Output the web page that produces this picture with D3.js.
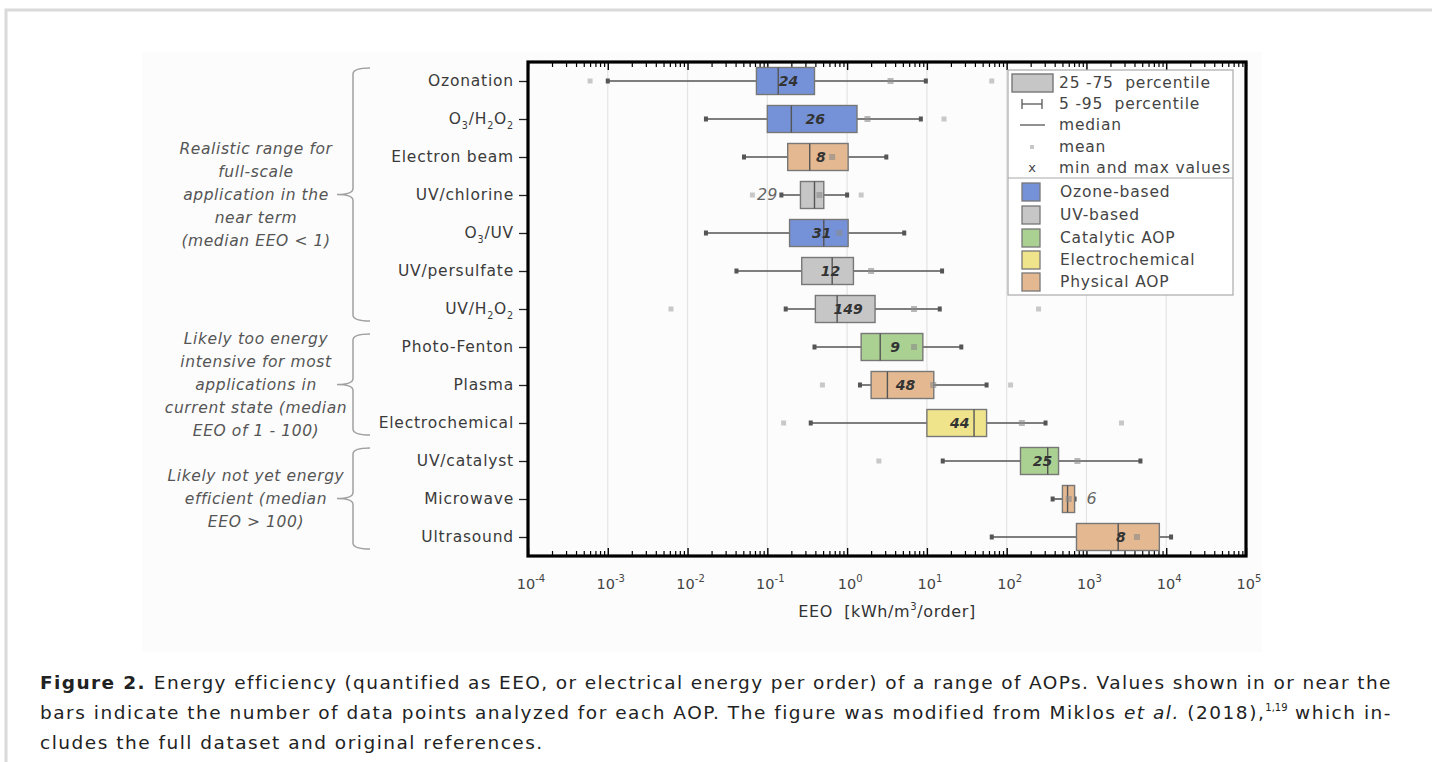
<!DOCTYPE html>
<html>
<head>
<meta charset="utf-8">
<script src="https://cdn.jsdelivr.net/npm/d3@7/dist/d3.min.js"></script>
<style>
  html, body { margin: 0; padding: 0; background: #fff; }
  svg { display: block; }
</style>
</head>
<body>
<svg id="fig" width="1432" height="762"></svg>
<script>
(function () {
  "use strict";

  // --- data (EEO, kWh/m3/order) ---
  var categories = ["Ozonation", "O_3/H_2O_2", "Electron beam", "UV/chlorine", "O_3/UV",
    "UV/persulfate", "UV/H_2O_2", "Photo-Fenton", "Plasma", "Electrochemical",
    "UV/catalyst", "Microwave", "Ultrasound"];
  var groups = ["ozone", "ozone", "physical", "uv", "ozone", "uv", "uv",
    "catalytic", "physical", "electro", "catalytic", "physical", "physical"];
  var counts = [24, 26, 8, 29, 31, 12, 149, 9, 48, 44, 25, 6, 8];
  var countSide = ["in", "in", "in", "left", "in", "in", "in", "in", "in", "in", "in", "right", "in"];
  var p5     = [0.001, 0.017, 0.051, 0.15, 0.017, 0.041, 0.17, 0.39, 1.45, 0.35, 15.8, 377, 65];
  var q1     = [0.073, 0.10, 0.18, 0.26, 0.19, 0.27, 0.40, 1.5, 2.0, 10, 149, 500, 750];
  var median = [0.137, 0.20, 0.34, 0.39, 0.51, 0.65, 0.75, 2.6, 3.2, 39, 327, 580, 2500];
  var q3     = [0.39, 1.33, 1.03, 0.51, 1.03, 1.2, 2.24, 8.9, 12.2, 56, 447, 710, 8200];
  var p95    = [9.7, 8.4, 3.1, 1.0, 5.2, 15.5, 14.5, 27, 56, 307, 4750, 710, 11500];
  var means  = [3.5, 1.8, 0.65, 0.45, 0.8, 2.0, 6.9, 6.9, 12, 155, 770, 600, 4300];
  var mins   = [0.0006, null, null, 0.065, null, null, 0.0062, null, 0.49, 0.16, 2.5, null, null];
  var maxs   = [65, 16.4, null, 1.5, null, null, 251, null, 112, 2750, null, null, null];

  var decades = [-4, -3, -2, -1, 0, 1, 2, 3, 4, 5];

  var groupKeys   = ["ozone", "uv", "catalytic", "electro", "physical"];
  var groupLabels = ["Ozone-based", "UV-based", "Catalytic AOP", "Electrochemical", "Physical AOP"];
  var groupColors = ["#7592d8", "#c6c6c6", "#aad192", "#efe48c", "#e4b991"];

  var statLabels = ["25 -75  percentile", "5 -95  percentile", "median", "mean", "min and max values"];

  var notes = [
    { rows: [0, 6], lines: ["Realistic range for", "full-scale", "application in the", "near term", "(median EEO < 1)"] },
    { rows: [7, 9], lines: ["Likely too energy", "intensive for most", "applications in", "current state (median", "EEO of 1 - 100)"] },
    { rows: [10, 12], lines: ["Likely not yet energy", "efficient (median", "EEO > 100)"] }
  ];

  var captionLines = [
    "Energy efficiency (quantified as EEO, or electrical energy per order) of a range of AOPs. Values shown in or near the",
    "bars indicate the number of data points analyzed for each AOP. The figure was modified from Miklos ",
    "cludes the full dataset and original references."
  ];

  var svg = d3.select("#fig");
  var font = "'DejaVu Sans', Verdana, sans-serif";
  var color = d3.scaleOrdinal().domain(groupKeys).range(groupColors);

  // page frame
  svg.append("rect").attr("x", 6).attr("y", 10).attr("width", 1430).attr("height", 760)
    .attr("fill", "none").attr("stroke", "#dadada").attr("stroke-width", 3);
  svg.append("rect").attr("x", 142).attr("y", 52).attr("width", 1120).attr("height", 600)
    .attr("fill", "#fcfcfc");

  var plot = { left: 528, right: 1246, top: 62, bottom: 556 };
  var x = d3.scaleLog().domain([1e-4, 1e5]).range([plot.left, plot.right]);
  var y = d3.scalePoint().domain(d3.range(categories.length)).range([plot.top, plot.bottom]).padding(0.5);
  var boxH = 27;

  var decadeVals = decades.map(function (d) { return Math.pow(10, d); });
  var minorVals = [];
  decades.slice(0, -1).forEach(function (d) {
    for (var k = 2; k <= 9; k++) minorVals.push(k * Math.pow(10, d));
  });

  // grid
  svg.append("g").selectAll("line").data(decadeVals.slice(1, -1)).enter().append("line")
    .attr("x1", function (d) { return x(d); }).attr("x2", function (d) { return x(d); })
    .attr("y1", plot.top).attr("y2", plot.bottom)
    .attr("stroke", "#e4e4e4").attr("stroke-width", 1.2);

  // axes ticks
  function tickAxis(axis, ty, size, vals, w) {
    var g = svg.append("g").attr("transform", "translate(0," + ty + ")")
      .call(axis.tickValues(vals).tickSize(size).tickFormat(""));
    g.select(".domain").remove();
    g.selectAll("text").remove();
    g.selectAll("line").attr("stroke", "#000").attr("stroke-width", w);
  }
  tickAxis(d3.axisBottom(x), plot.bottom, -8, decadeVals, 1.4);
  tickAxis(d3.axisBottom(x), plot.bottom, -5, minorVals, 1.2);
  tickAxis(d3.axisTop(x), plot.top, -8, decadeVals, 1.4);
  tickAxis(d3.axisTop(x), plot.top, -5, minorVals, 1.2);

  var yAxis = svg.append("g").attr("transform", "translate(" + plot.left + ",0)")
    .call(d3.axisLeft(y).tickSize(9).tickFormat(""));
  yAxis.select(".domain").remove();
  yAxis.selectAll("text").remove();
  yAxis.selectAll("line").attr("stroke", "#222").attr("stroke-width", 1.3);

  // frame
  svg.append("rect").attr("x", plot.left).attr("y", plot.top)
    .attr("width", plot.right - plot.left).attr("height", plot.bottom - plot.top)
    .attr("fill", "none").attr("stroke", "#000").attr("stroke-width", 3.2);

  // x tick labels
  var xl = svg.append("g").selectAll("text").data(decades).enter().append("text")
    .attr("x", function (d) { return x(Math.pow(10, d)) + 3; }).attr("y", 589)
    .attr("text-anchor", "middle").attr("font-family", font).attr("font-size", 14.5)
    .attr("fill", "#444");
  xl.append("tspan").text("10");
  xl.append("tspan").attr("dy", -7).attr("font-size", 10).text(function (d) { return d; });

  var xt = svg.append("text").attr("x", 887).attr("y", 617).attr("text-anchor", "middle")
    .attr("font-family", font).attr("font-size", 16).attr("letter-spacing", 0.6).attr("fill", "#333");
  xt.append("tspan").text("EEO  [kWh/m").attr("xml:space", "preserve");
  xt.append("tspan").attr("dy", -7).attr("font-size", 10).text("3");
  xt.append("tspan").attr("dy", 7).text("/order]");

  // category labels with subscripts
  function richText(sel, str, size) {
    var parts = str.split(/(_\d)/).filter(function (p) { return p; });
    var shift = 0;
    parts.forEach(function (p) {
      if (p.charAt(0) === "_") {
        sel.append("tspan").attr("font-size", size * 0.62).attr("dy", 5 - shift).text(p.slice(1));
        shift = 5;
      } else {
        var t = sel.append("tspan").text(p);
        if (shift) t.attr("dy", -shift);
        shift = 0;
      }
    });
  }
  categories.forEach(function (c, i) {
    var t = svg.append("text").attr("x", 514).attr("y", y(i) + 5)
      .attr("text-anchor", "end").attr("font-family", font).attr("font-size", 15.5)
      .attr("letter-spacing", 0.8).attr("fill", "#3a3a3a");
    richText(t, c, 15.5);
  });

  // boxes
  var rows = svg.append("g").selectAll("g").data(d3.range(categories.length)).enter()
    .append("g").attr("transform", function (i) { return "translate(0," + y(i) + ")"; });

  rows.append("line")
    .attr("x1", function (i) { return x(p5[i]); }).attr("x2", function (i) { return x(p95[i]); })
    .attr("stroke", "#555").attr("stroke-width", 1.6);
  rows.selectAll(".cap").data(function (i) { return [p5[i], p95[i]]; }).enter().append("rect")
    .attr("x", function (v) { return x(v) - 2; }).attr("y", -2.5)
    .attr("width", 4).attr("height", 5).attr("fill", "#555");
  rows.append("rect")
    .attr("x", function (i) { return x(q1[i]); })
    .attr("y", -boxH / 2).attr("height", boxH)
    .attr("width", function (i) { return x(q3[i]) - x(q1[i]); })
    .attr("fill", function (i) { return color(groups[i]); })
    .attr("stroke", "#777").attr("stroke-width", 1.4);
  rows.append("line")
    .attr("x1", function (i) { return x(median[i]); }).attr("x2", function (i) { return x(median[i]); })
    .attr("y1", -boxH / 2).attr("y2", boxH / 2)
    .attr("stroke", "#555").attr("stroke-width", 1.4);
  rows.append("rect")
    .attr("x", function (i) { return x(means[i]) - 3; }).attr("y", -3)
    .attr("width", 6).attr("height", 6).attr("fill", "#8a8a8a").attr("opacity", 0.6);
  rows.selectAll(".ext").data(function (i) { return [mins[i], maxs[i]].filter(function (v) { return v !== null; }); })
    .enter().append("rect")
    .attr("x", function (v) { return x(v) - 2.5; }).attr("y", -2.5)
    .attr("width", 5).attr("height", 5).attr("fill", "#c8c8c8");

  rows.append("text")
    .attr("x", function (i) {
      if (countSide[i] === "left") return x(p5[i]) - 4;
      if (countSide[i] === "right") return x(q3[i]) + 12;
      return (x(q1[i]) + x(q3[i])) / 2 + 3;
    })
    .attr("y", 5)
    .attr("text-anchor", function (i) {
      return countSide[i] === "left" ? "end" : countSide[i] === "right" ? "start" : "middle";
    })
    .attr("font-family", font).attr("font-size", function (i) { return countSide[i] === "in" ? 14 : 16; })
    .attr("font-style", "italic")
    .attr("font-weight", function (i) { return countSide[i] === "in" ? "bold" : "normal"; })
    .attr("fill", function (i) { return countSide[i] === "in" ? "#333" : "#666"; })
    .text(function (i) { return counts[i]; });

  // legend
  var lg = svg.append("g");
  var legFont = 15.5, legSpace = 0.8;
  lg.append("rect").attr("x", 1008).attr("y", 70).attr("width", 225).attr("height", 225)
    .attr("fill", "#fff").attr("stroke", "#aaa").attr("stroke-width", 1.2);
  lg.append("line").attr("x1", 1008).attr("x2", 1233).attr("y1", 178).attr("y2", 178)
    .attr("stroke", "#aaa").attr("stroke-width", 1.2);
  var statY = [83, 104, 125, 147, 168];
  lg.append("rect").attr("x", 1012).attr("y", 74).attr("width", 41).attr("height", 18)
    .attr("fill", "#c6c6c6").attr("stroke", "#777").attr("stroke-width", 1.4);
  lg.append("line").attr("x1", 1022).attr("x2", 1042).attr("y1", statY[1]).attr("y2", statY[1])
    .attr("stroke", "#555").attr("stroke-width", 1.3);
  [1022, 1042].forEach(function (cx) {
    lg.append("line").attr("x1", cx).attr("x2", cx).attr("y1", statY[1] - 5).attr("y2", statY[1] + 5)
      .attr("stroke", "#555").attr("stroke-width", 1.3);
  });
  lg.append("line").attr("x1", 1020).attr("x2", 1045).attr("y1", statY[2]).attr("y2", statY[2])
    .attr("stroke", "#555").attr("stroke-width", 1.3);
  lg.append("rect").attr("x", 1030).attr("y", statY[3] - 2).attr("width", 4).attr("height", 4)
    .attr("fill", "#c8c8c8");
  lg.append("text").attr("x", 1032).attr("y", statY[4] + 4).attr("text-anchor", "middle")
    .attr("font-family", font).attr("font-size", 13).attr("fill", "#444").text("x");
  lg.selectAll(".st").data(statLabels).enter().append("text")
    .attr("x", 1059).attr("y", function (d, i) { return statY[i] + 5; })
    .attr("font-family", font).attr("font-size", legFont).attr("letter-spacing", legSpace)
    .attr("fill", "#444").style("white-space", "pre")
    .text(function (d) { return d; });

  var grpY = [192, 215, 238, 260, 282];
  lg.selectAll(".sw").data(groupKeys).enter().append("rect")
    .attr("x", 1022).attr("y", function (d, i) { return grpY[i] - 9; })
    .attr("width", 18).attr("height", 18)
    .attr("fill", function (d) { return color(d); }).attr("stroke", "#777").attr("stroke-width", 1.3);
  lg.selectAll(".gl").data(groupLabels).enter().append("text")
    .attr("x", 1060).attr("y", function (d, i) { return grpY[i] + 5; })
    .attr("font-family", font).attr("font-size", legFont).attr("letter-spacing", legSpace)
    .attr("fill", "#444")
    .text(function (d) { return d; });

  // brackets and notes
  notes.forEach(function (n) {
    var top = y(n.rows[0]) - 13, bot = y(n.rows[1]) + 12, mid = (top + bot) / 2;
    var bx = 353;
    var p = d3.path();
    p.moveTo(bx + 17, top);
    p.quadraticCurveTo(bx, top, bx, top + 6);
    p.lineTo(bx, mid - 6);
    p.quadraticCurveTo(bx, mid, bx - 16, mid);
    p.quadraticCurveTo(bx, mid, bx, mid + 6);
    p.lineTo(bx, bot - 6);
    p.quadraticCurveTo(bx, bot, bx + 17, bot);
    svg.append("path").attr("d", p.toString()).attr("fill", "none")
      .attr("stroke", "#a0a0a0").attr("stroke-width", 1.5);
    var lh = 23;
    var y0 = mid - (n.lines.length - 1) * lh / 2 + 5;
    svg.append("g").selectAll("text").data(n.lines).enter().append("text")
      .attr("x", 256).attr("y", function (d, i) { return y0 + i * lh; })
      .attr("text-anchor", "middle").attr("font-family", font).attr("font-size", 15.5)
      .attr("letter-spacing", 0.6).attr("font-style", "italic").attr("fill", "#555")
      .text(function (d) { return d; });
  });

  // caption
  var cap = svg.append("g").attr("font-family", font).attr("font-size", 18.5)
    .attr("letter-spacing", 1.5).attr("fill", "#222");
  var l1 = cap.append("text").attr("x", 40).attr("y", 689).attr("textLength", 1352).attr("lengthAdjust", "spacing");
  l1.append("tspan").attr("font-weight", "bold").text("Figure 2. ");
  l1.append("tspan").text(captionLines[0]);
  var l2 = cap.append("text").attr("x", 40).attr("y", 719).attr("textLength", 1352).attr("lengthAdjust", "spacing");
  l2.append("tspan").text(captionLines[1]);
  l2.append("tspan").attr("font-style", "italic").text("et al.");
  l2.append("tspan").text(" (2018),");
  l2.append("tspan").attr("font-size", 10).attr("letter-spacing", 0).attr("dy", -8).text("1,19");
  l2.append("tspan").attr("dy", 8).text(" which in-");
  cap.append("text").attr("x", 40).attr("y", 749).text(captionLines[2]);
}());
</script>
</body>
</html>
